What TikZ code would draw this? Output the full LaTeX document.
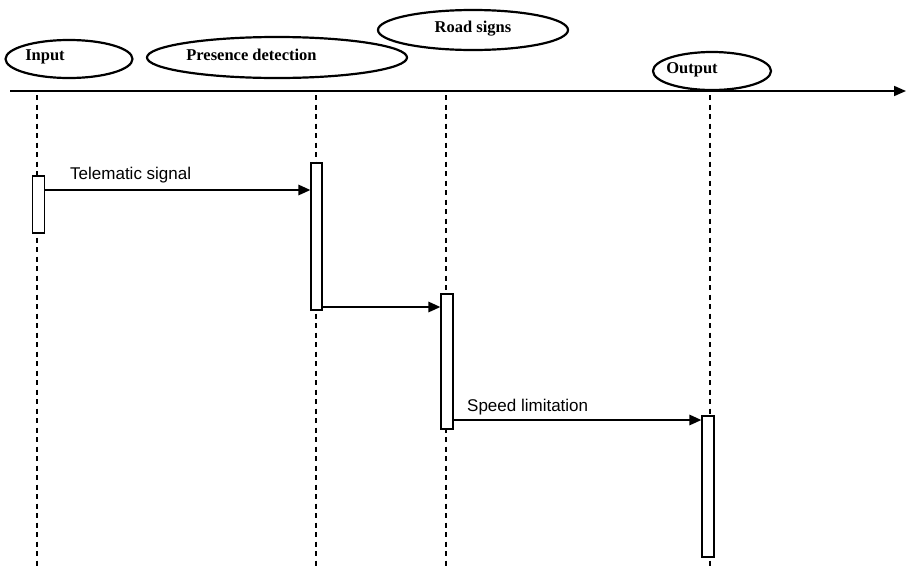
\documentclass[tikz,border=0pt]{standalone}
\usepackage{fontspec}
\setmainfont{Liberation Serif}
\newfontfamily\msgfont{Liberation Sans}
\usetikzlibrary{shapes.geometric,arrows.meta}
\begin{document}
\begin{tikzpicture}[x=1pt,y=-1pt,
  actor/.style={draw,ellipse,line width=2.2pt,inner sep=0pt},
  actortext/.style={font=\fontsize{16.5}{19}\selectfont\bfseries},
  lifeline/.style={line width=1.4pt,dash pattern=on 5pt off 4.5pt},
  actbox/.style={draw,fill=white,line width=1.3pt,minimum width=12pt,inner sep=0pt},
  msg/.style={line width=1.6pt,-{Triangle[length=12pt,width=10.5pt]}},
  msglabel/.style={font=\msgfont\fontsize{17}{20}\selectfont,anchor=base west,inner sep=0pt},
  axis/.style={line width=1.7pt,-{Triangle[length=12pt,width=10pt]}}]
\useasboundingbox (0,0) rectangle (907,568);

% participants
\node[actor,minimum width=127pt,minimum height=38pt,
  label={[actortext,xshift=-24pt,yshift=2pt]center:Input}] (input) at (69,59) {};
\node[actor,minimum width=260pt,minimum height=41pt,
  label={[actortext,xshift=-25.5pt,yshift=3pt]center:Presence detection}] (presence) at (277,57.5) {};
\node[actor,minimum width=190pt,minimum height=40pt,
  label={[actortext,yshift=1pt]center:Road signs}] (road) at (473,30) {};
\node[actor,minimum width=118pt,minimum height=38pt,
  label={[actortext,xshift=-20pt,yshift=1pt]center:Output}] (output) at (712,71) {};

% time axis
\coordinate (axstart) at (10,91);
\coordinate (axend) at (906,91);
\draw[axis] (axstart) -- (axend);

% lifelines
\coordinate (l1t) at (37,95);   \coordinate (l1b) at (37,568);
\coordinate (l2t) at (316,95);  \coordinate (l2b) at (316,568);
\coordinate (l3t) at (446,95);  \coordinate (l3b) at (446,568);
\coordinate (l4t) at (710,95);  \coordinate (l4b) at (710,568);
\draw[lifeline] (l1t) -- (l1b);
\draw[lifeline] (l2t) -- (l2b);
\draw[lifeline] (l3t) -- (l3b);
\draw[lifeline] (l4t) -- (l4b);

% activation bars
\node[actbox,minimum height=57pt,minimum width=12pt] (a1) at (38.5,204.5) {};
\node[actbox,minimum height=147pt,minimum width=11pt] (a2) at (316.5,236.5) {};
\node[actbox,minimum height=135pt] (a3) at (447,361.5) {};
\node[actbox,minimum height=141pt] (a4) at (708,486.5) {};

% messages
\coordinate (m1) at (0,190);
\coordinate (m2) at (0,307);
\coordinate (m3) at (0,420);
\draw[msg] (a1.east |- m1) -- (a2.west |- m1);
\draw[msg] (a2.east |- m2) -- (a3.west |- m2);
\draw[msg] (a3.east |- m3) -- (a4.west |- m3);
\node[msglabel] (t1) at (70,179) {Telematic signal};
\node[msglabel] (t3) at (467,411) {Speed limitation};
\end{tikzpicture}
\end{document}
